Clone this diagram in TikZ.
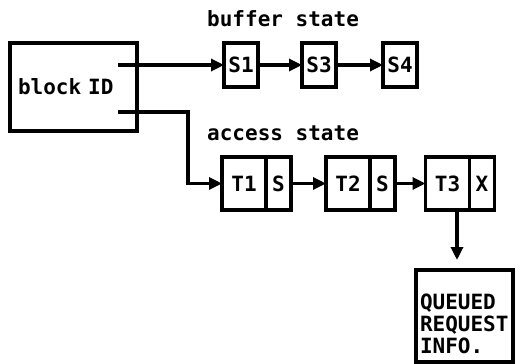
\documentclass[tikz,border=0pt]{standalone}
\usepackage{fontspec}
\setmainfont{DejaVu Sans Mono}
\usetikzlibrary{positioning,arrows.meta}
\tikzset{
  >={Triangle[length=13pt,width=12pt]},
  idbox/.style={draw,line width=3.2pt,minimum width=127pt,minimum height=88pt,
    text width=111pt,inner xsep=8pt,align=left,outer sep=0pt},
  cell/.style={draw,line width=3.2pt,minimum height=44pt,inner sep=0pt,
    outer sep=0pt},
  scell/.style={cell,minimum width=34pt},
  tcell/.style={cell,minimum height=53pt,minimum width=44pt},
  fcell/.style={cell,minimum height=53pt,minimum width=25pt},
  flow/.style={->,line width=3.2pt},
  statelbl/.style={anchor=base west,inner sep=0pt},
  infobox/.style={draw,line width=3.2pt,anchor=north west,align=left,
    text width=89pt,inner xsep=4pt,inner ysep=5pt,minimum height=92pt,
    outer sep=0pt},
}

\begin{document}
\begin{tikzpicture}[x=1pt,y=-1pt,font=\bfseries\fontsize{21}{22}\selectfont]
  \useasboundingbox (0,0) rectangle (517,364);
  % block id entry and its two pointers
  \node[idbox] (blk) at (73.5,87) {block ID};
  \coordinate (out1) at (118,65);
  \coordinate (out2) at (118,112);
  % buffer state chain
  \node[statelbl] (buflbl) at (207,27) {buffer state};
  \node[scell] (s1) at (241,65) {S1};
  \node[scell] (s3) at (319,65) {S3};
  \node[scell] (s4) at (400,65) {S4};
  \draw[flow] (out1) -- (s1);
  \draw[flow] (s1) -- (s3);
  \draw[flow] (s3) -- (s4);
  % access state chain
  \node[statelbl] (acclbl) at (207,140) {access state};
  \node[tcell] (t1) at (244,183.5) {T1};
  \node[fcell,right=0pt of t1] (t1s) {S};
  \node[tcell] (t2) at (348,183.5) {T2};
  \node[fcell,right=0pt of t2] (t2s) {S};
  \node[tcell] (t3) at (447.5,183.5) {T3};
  \node[fcell,right=0pt of t3] (t3x) {X};
  \coordinate (turn) at (188,183.5);
  \draw[flow] (out2) -| (turn) -- (t1);
  \draw[flow] (t1s) -- (t2);
  \draw[flow] (t2s) -- (t3);
  % waiting request
  \node[infobox] (info) at (416,270) {\rule{0pt}{31pt}QUEUED\\REQUEST\\INFO.};
  \coordinate (qin) at (457,260);
  \draw[flow] (t3.south -| qin) -- (qin);
\end{tikzpicture}
\end{document}
